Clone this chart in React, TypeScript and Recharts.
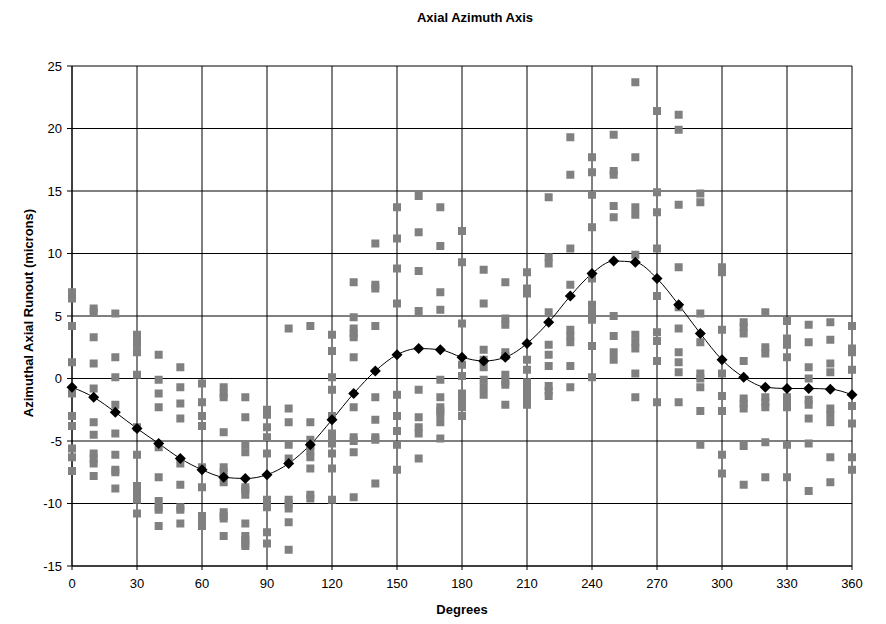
import {
  CartesianGrid,
  ComposedChart,
  Line,
  Scatter,
  XAxis,
  YAxis,
} from "recharts";

const degrees = [
  0, 10, 20, 30, 40, 50, 60, 70, 80, 90, 100, 110, 120, 130, 140, 150, 160, 170, 180,
  190, 200, 210, 220, 230, 240, 250, 260, 270, 280, 290, 300, 310, 320, 330, 340, 350, 360,
];

const meanRunout = [
  -0.7, -1.5, -2.7, -4.0, -5.2, -6.4, -7.3, -7.9, -8.0, -7.7, -6.8, -5.3, -3.3, -1.2, 0.6,
  1.9, 2.4, 2.3, 1.7, 1.4, 1.7, 2.8, 4.5, 6.6, 8.4, 9.4, 9.3, 8.0, 5.9, 3.6, 1.5, 0.1,
  -0.7, -0.8, -0.8, -0.85, -1.3,
];

// individual measurements, one list per angle (same order as degrees)
const runoutSamples: number[][] = [
  [6.9, 6.4, 4.2, 1.3, -1.2, -3.0, -3.8, -5.6, -6.3, -7.4],
  [5.6, 5.3, 3.3, 1.2, -0.8, -3.5, -4.5, -6.0, -6.4, -6.8, -7.8],
  [5.2, 1.7, 0.1, -2.1, -4.4, -6.1, -7.3, -7.5, -8.8],
  [3.5, 3.1, 2.7, 2.1, 0.3, -3.9, -6.1, -8.6, -8.9, -9.4, -9.7, -10.8],
  [1.9, -0.1, -1.2, -2.3, -5.5, -7.9, -9.8, -10.3, -10.5, -11.8],
  [0.9, -0.7, -2.0, -3.2, -6.8, -8.5, -10.3, -10.5, -11.6],
  [-0.4, -1.9, -3.0, -3.8, -7.1, -8.7, -11.0, -11.4, -11.8],
  [-0.7, -1.2, -1.5, -4.3, -7.1, -7.5, -8.3, -10.7, -11.0, -11.2, -12.6],
  [-1.5, -3.1, -5.3, -5.9, -8.7, -8.9, -9.3, -11.6, -12.6, -12.9, -13.2, -13.4],
  [-2.5, -2.9, -3.9, -4.7, -6.0, -9.7, -10.0, -10.3, -12.3, -13.2],
  [4.0, -2.4, -3.5, -5.3, -6.4, -9.7, -10.0, -10.4, -11.5, -13.7],
  [4.2, -3.5, -4.9, -5.4, -5.8, -6.3, -7.2, -9.3, -9.6],
  [3.5, 2.2, 0.1, -0.9, -3.0, -4.4, -4.8, -5.2, -6.0, -7.2, -9.7],
  [7.7, 4.9, 4.0, 3.6, 3.3, 1.7, -2.3, -4.7, -5.0, -5.9, -9.5],
  [10.8, 7.5, 7.2, 4.2, -1.5, -3.3, -4.7, -4.9, -8.4],
  [13.7, 11.2, 8.8, 6.0, -1.3, -3.0, -4.2, -5.3, -7.3],
  [14.6, 11.7, 8.6, 5.4, -0.9, -3.1, -3.9, -4.4, -6.4],
  [13.7, 10.6, 6.9, 5.5, -0.1, -1.5, -2.3, -2.6, -2.9, -3.5, -4.8],
  [11.8, 9.3, 4.4, 1.1, 0.2, -1.2, -1.8, -2.3, -3.0],
  [8.7, 6.0, 2.3, 1.5, 0.9, -0.1, -0.7, -1.3],
  [7.7, 4.8, 4.3, 2.1, 1.8, 0.3, -0.2, -0.5, -2.1],
  [8.5, 7.2, 6.8, 1.5, 0.7, -0.3, -0.7, -1.1, -1.6, -2.1],
  [14.5, 9.7, 9.2, 5.3, 2.7, 1.9, 1.0, -0.6, -1.0, -1.4],
  [19.3, 16.3, 10.4, 7.5, 3.9, 3.4, 2.9, 1.0, -0.7],
  [17.7, 16.5, 14.7, 12.1, 8.0, 5.9, 5.3, 4.7, 2.6, 0.1],
  [19.5, 16.6, 16.3, 13.8, 12.9, 5.0, 3.4, 2.1, 1.5],
  [23.7, 17.7, 13.7, 13.1, 9.9, 3.5, 2.9, 2.4, 0.4, -1.5],
  [21.4, 14.9, 13.3, 10.4, 6.6, 3.7, 3.0, 1.4, -1.9],
  [21.1, 19.9, 13.9, 8.9, 5.7, 4.0, 2.1, 1.3, 0.5, -1.9],
  [14.8, 14.1, 5.2, 2.9, 0.4, 0.0, -0.7, -2.6, -5.3],
  [8.9, 8.5, 3.9, 0.4, -1.4, -2.6, -6.1, -7.6],
  [4.5, 4.1, 3.6, 1.4, -1.6, -2.0, -2.4, -5.4, -8.5],
  [5.3, 2.5, 2.0, -1.5, -1.9, -2.3, -5.1, -7.9],
  [4.6, 3.2, 2.7, 1.7, -1.5, -1.9, -2.3, -5.3, -7.9],
  [4.3, 2.9, 0.9, 0.0, -1.7, -2.1, -3.2, -5.2, -9.0],
  [4.5, 3.1, 1.2, 0.5, -2.4, -2.9, -3.5, -6.3, -8.3],
  [4.2, 2.4, 2.1, 0.7, -2.2, -3.6, -6.3, -7.3],
];

const xTicks = [0, 30, 60, 90, 120, 150, 180, 210, 240, 270, 300, 330, 360];
const yTicks = [-15, -10, -5, 0, 5, 10, 15, 20, 25];

const scatterPoints = degrees.flatMap((deg, i) =>
  runoutSamples[i].map((runout) => ({ deg, runout }))
);
const lineData = degrees.map((deg, i) => ({ deg, mean: meanRunout[i] }));

const FONT = "'Liberation Sans', Arial, sans-serif";

const GraySquare = (props: any) => {
  const { cx, cy } = props;
  if (cx == null || cy == null) return null;
  return <rect x={cx - 4} y={cy - 4} width={8} height={8} fill="#808080" />;
};

const Diamond = (props: any) => {
  const { cx, cy, index } = props;
  if (cx == null || cy == null) return null;
  const r = 5.5;
  return (
    <polygon
      key={`d-${index}`}
      points={`${cx},${cy - r} ${cx + r},${cy} ${cx},${cy + r} ${cx - r},${cy}`}
      fill="#000"
    />
  );
};

export default function App() {
  return (
    <div style={{ position: "relative", width: 870, height: 616, fontFamily: FONT }}>
      <div
        style={{
          position: "absolute",
          left: 0,
          top: 2,
          width: 934,
          textAlign: "center",
          fontSize: 13,
          fontWeight: "bold",
          lineHeight: "15px",
        }}
      >
        Axial Azimuth Axis
      </div>
      <div
        style={{
          position: "absolute",
          left: 20,
          top: 305,
          transform: "translate(-50%, -50%) rotate(-90deg)",
          whiteSpace: "nowrap",
          fontSize: 13,
          fontWeight: "bold",
          lineHeight: "15px",
        }}
      >
        Azimuthal Axial Runout (microns)
      </div>
      <div
        style={{
          position: "absolute",
          left: 0,
          top: 594,
          width: 908,
          textAlign: "center",
          fontSize: 13,
          fontWeight: "bold",
          lineHeight: "15px",
        }}
      >
        Degrees
      </div>
      <ComposedChart
        width={870}
        height={616}
        margin={{ top: 58, right: 26, bottom: 28, left: 24 }}
      >
        <CartesianGrid stroke="#000" strokeWidth={1} />
        <XAxis
          dataKey="deg"
          type="number"
          domain={[0, 360]}
          ticks={xTicks}
          interval={0}
          height={30}
          stroke="#000"
          tickSize={4}
          tickMargin={9}
          tick={{ fontSize: 13, fill: "#000", fontFamily: FONT }}
        />
        <YAxis
          type="number"
          domain={[-15, 25]}
          ticks={yTicks}
          interval={0}
          width={40}
          stroke="#000"
          tickSize={5}
          tickMargin={5}
          tick={{ fontSize: 13, fill: "#000", fontFamily: FONT }}
        />
        <Scatter
          data={scatterPoints}
          dataKey="runout"
          shape={GraySquare}
          isAnimationActive={false}
        />
        <Line
          data={lineData}
          dataKey="mean"
          type="monotone"
          stroke="#000"
          strokeWidth={1}
          dot={Diamond}
          activeDot={false}
          isAnimationActive={false}
        />
      </ComposedChart>
    </div>
  );
}
